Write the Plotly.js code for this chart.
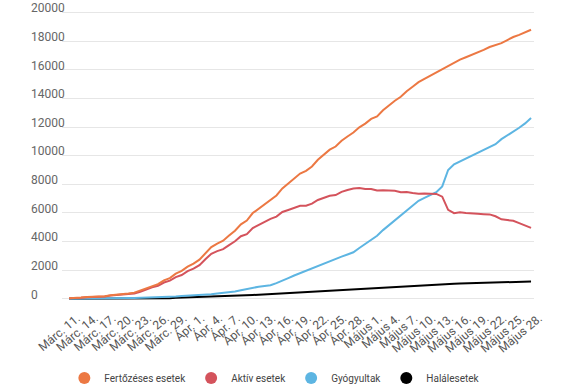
<!DOCTYPE html>
<html>
<head>
<meta charset="utf-8">
<script src="https://cdn.plot.ly/plotly-3.0.1.min.js"></script>
<style>html,body{margin:0;padding:0;background:#fff;}#chart{width:575px;height:387px;}</style>
</head>
<body>
<div id="chart"></div>
<script>
// Days from Márc. 11. to Május 28.
const days = [
  "Márc. 11.","Márc. 12.","Márc. 13.","Márc. 14.","Márc. 15.","Márc. 16.","Márc. 17.","Márc. 18.","Márc. 19.","Márc. 20.",
  "Márc. 21.","Márc. 22.","Márc. 23.","Márc. 24.","Márc. 25.","Márc. 26.","Márc. 27.","Márc. 28.","Márc. 29.","Márc. 30.",
  "Márc. 31.","Ápr. 1.","Ápr. 2.","Ápr. 3.","Ápr. 4.","Ápr. 5.","Ápr. 6.","Ápr. 7.","Ápr. 8.","Ápr. 9.",
  "Ápr. 10.","Ápr. 11.","Ápr. 12.","Ápr. 13.","Ápr. 14.","Ápr. 15.","Ápr. 16.","Ápr. 17.","Ápr. 18.","Ápr. 19.",
  "Ápr. 20.","Ápr. 21.","Ápr. 22.","Ápr. 23.","Ápr. 24.","Ápr. 25.","Ápr. 26.","Ápr. 27.","Ápr. 28.","Ápr. 29.",
  "Ápr. 30.","Május 1.","Május 2.","Május 3.","Május 4.","Május 5.","Május 6.","Május 7.","Május 8.","Május 9.",
  "Május 10.","Május 11.","Május 12.","Május 13.","Május 14.","Május 15.","Május 16.","Május 17.","Május 18.","Május 19.",
  "Május 20.","Május 21.","Május 22.","Május 23.","Május 24.","Május 25.","Május 26.","Május 27.","Május 28."
];

const tickDays = [
  "Márc. 11.","Márc. 14.","Márc. 17.","Márc. 20.","Márc. 23.","Márc. 26.","Márc. 29.",
  "Ápr. 1.","Ápr. 4.","Ápr. 7.","Ápr. 10.","Ápr. 13.","Ápr. 16.","Ápr. 19.","Ápr. 22.","Ápr. 25.","Ápr. 28.",
  "Május 1.","Május 4.","Május 7.","Május 10.","Május 13.","Május 16.","Május 19.","Május 22.","Május 25.","Május 28."
];

const yTickVals = [0, 2000, 4000, 6000, 8000, 10000, 12000, 14000, 16000, 18000, 20000];
const yTickText = ["0", "2000", "4000", "6000", "8000", "10000", "12000", "14000", "16000", "18000", "20000"];

const fertozes = [
  45, 49, 89, 123, 131, 158, 184, 246, 277, 308,
  367, 433, 576, 762, 906, 1029, 1292, 1452, 1760, 1952,
  2245, 2460, 2738, 3183, 3613, 3864, 4057, 4417, 4761, 5202,
  5467, 5990, 6300, 6633, 6879, 7216, 7707, 8067, 8418, 8746,
  8936, 9242, 9710, 10096, 10417, 10635, 11036, 11339, 11616, 11978,
  12240, 12567, 12732, 13163, 13512, 13837, 14107, 14499, 14811, 15131,
  15362, 15588, 15778, 16002, 16247, 16437, 16704, 16871, 17036, 17191,
  17387, 17585, 17712, 17857, 18070, 18283, 18429, 18594, 18791
];

const aktiv = [
  39, 43, 80, 114, 122, 149, 168, 227, 252, 277,
  315, 367, 499, 672, 803, 912, 1140, 1269, 1522, 1664,
  1933, 2114, 2357, 2767, 3147, 3331, 3475, 3757, 4021, 4373,
  4519, 4940, 5159, 5417, 5585, 5744, 6065, 6206, 6359, 6495,
  6498, 6644, 6906, 7071, 7200, 7247, 7467, 7598, 7703, 7735,
  7665, 7673, 7561, 7575, 7559, 7554, 7448, 7461, 7394, 7342,
  7354, 7356, 7326, 7136, 6211, 5981, 6038, 5992, 5942, 5934,
  5912, 5898, 5766, 5551, 5502, 5453, 5289, 5144, 4959
];

const gyogyult = [
  6, 6, 9, 9, 9, 9, 16, 19, 25, 31,
  52, 64, 73, 79, 86, 94, 115, 139, 169, 206,
  220, 252, 266, 283, 315, 372, 406, 460, 520, 600,
  700, 780, 850, 900, 950, 1100, 1250, 1450, 1630, 1800,
  1960, 2100, 2280, 2480, 2650, 2800, 2950, 3100, 3250, 3550,
  3850, 4150, 4400, 4800, 5150, 5450, 5800, 6150, 6500, 6850,
  7050, 7250, 7450, 7850, 9000, 9400, 9600, 9800, 10000, 10150,
  10350, 10550, 10800, 11150, 11400, 11650, 11950, 12250, 12620
];

const halal = [
  0, 0, 0, 0, 0, 0, 0, 0, 0, 0,
  0, 2, 4, 11, 17, 23, 37, 44, 69, 82,
  92, 94, 115, 133, 151, 161, 176, 200, 220, 229,
  248, 270, 291, 316, 344, 372, 392, 411, 429, 451,
  478, 498, 524, 545, 567, 588, 619, 641, 663, 693,
  725, 744, 771, 788, 803, 833, 859, 888, 917, 939,
  958, 982, 1002, 1016, 1036, 1056, 1066, 1079, 1094, 1107,
  1125, 1137, 1146, 1156, 1168, 1180, 1190, 1200, 1212
];

const names = ["Fertőzéses esetek", "Aktív esetek", "Gyógyultak", "Halálesetek"];
const colors = ["#ec7843", "#d4535c", "#5db5e2", "#000000"];
const series = [fertozes, aktiv, gyogyult, halal];

const traces = [];
[3, 2, 1, 0].forEach(function (k) {
  traces.push({
    type: "scatter", mode: "lines", x: days, y: series[k], name: names[k],
    line: {color: colors[k], width: 2}, showlegend: false, hoverinfo: "skip"
  });
});
names.forEach(function (n, k) {
  traces.push({
    type: "scatter", mode: "markers", x: [null], y: [null], name: n,
    marker: {color: colors[k], size: 14, symbol: "circle"}, showlegend: true
  });
});

const layout = {
  width: 575, height: 387, autosize: false,
  margin: {l: 27, r: 40.6, t: 10.6, b: 85.85, pad: 0},
  paper_bgcolor: "#ffffff", plot_bgcolor: "#ffffff",
  font: {family: "Roboto, 'Open Sans', sans-serif", color: "#555"},
  showlegend: true,
  legend: {
    orientation: "h", xref: "container", yref: "container",
    x: 0.478, xanchor: "center", y: 0.0233, yanchor: "middle",
    font: {size: 10, color: "#444"}, itemsizing: "constant", traceorder: "normal",
    bgcolor: "rgba(0,0,0,0)"
  },
  xaxis: {
    type: "category", domain: [0.0692, 1], range: [-1.2, 78.5], tickmode: "array", tickvals: tickDays, ticktext: tickDays,
    tickangle: -40, showgrid: false, zeroline: false, showline: false, ticks: "",
    ticklabelstandoff: 7, ticklabelshift: 8,
    tickfont: {size: 12, color: "#555"}, fixedrange: true
  },
  yaxis: {
    anchor: "free", position: 0, side: "left",
    range: [-150, 20100], tickmode: "array", tickvals: yTickVals, ticktext: yTickText,
    ticklabelposition: "inside top", ticklabeloverflow: "allow", ticklabelshift: 4,
    showgrid: true, gridcolor: "#e6e6e6", gridwidth: 1,
    zeroline: false, showline: false, ticks: "",
    tickfont: {size: 12, color: "#666"}, fixedrange: true
  }
};

Plotly.newPlot("chart", traces, layout, {displayModeBar: false, staticPlot: true});
</script>
</body>
</html>
